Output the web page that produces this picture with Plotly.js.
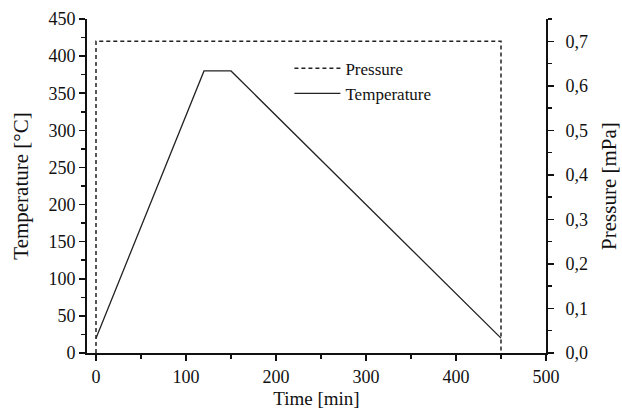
<!DOCTYPE html>
<html>
<head>
<meta charset="utf-8">
<script src="https://cdn.plot.ly/plotly-3.0.1.min.js"></script>
<style>html,body{margin:0;padding:0;background:#fff;}#chart{width:622px;height:409px;}</style>
</head>
<body>
<div id="chart"></div>
<script>
const pressureTime = [0, 0, 450, 450];
const pressureValues = [0, 0.7, 0.7, 0];
const tempTime = [0, 120, 150, 450];
const tempValues = [20, 380, 380, 20];

const fam = '"Liberation Serif", "Times New Roman", serif';
const tickFont = {family: fam, size: 18, color: '#111'};
const legendFont = {family: fam, size: 17, color: '#111'};

const traces = [
  {x: pressureTime, y: pressureValues, yaxis: 'y2', name: 'Pressure', mode: 'lines',
   line: {color: '#222', width: 1.5, dash: '4px,3px'}},
  {x: tempTime, y: tempValues, name: 'Temperature', mode: 'lines',
   line: {color: '#222', width: 1.3}}
];

const axisCommon = {
  showgrid: false, zeroline: false, showline: true, linecolor: '#111', linewidth: 2,
  ticks: 'outside', ticklen: 6, tickwidth: 1.5, tickcolor: '#111', tickfont: tickFont
};

const layout = {
  width: 622, height: 409,
  margin: {l: 87, r: 76, t: 19, b: 56},
  paper_bgcolor: '#fff', plot_bgcolor: '#fff',
  font: tickFont,
  separators: ',.',
  showlegend: true,
  legend: {x: 0.441, y: 0.905, xanchor: 'left', yanchor: 'top', bgcolor: 'rgba(0,0,0,0)',
           font: legendFont, tracegroupgap: 0, itemwidth: 46},
  xaxis: Object.assign({}, axisCommon, {
    range: [-10, 500], tickvals: [0, 100, 200, 300, 400, 500],
    minor: {dtick: 50, tick0: 0, ticklen: 4, tickwidth: 1.5, tickcolor: '#111', ticks: 'outside'},
    title: {text: 'Time [min]', font: {family: fam, size: 19, color: '#111'}, standoff: 8}
  }),
  yaxis: Object.assign({}, axisCommon, {
    range: [0, 450], dtick: 50, tick0: 0,
    minor: {dtick: 25, tick0: 0, ticklen: 4, tickwidth: 1.5, tickcolor: '#111', ticks: 'outside'},
    title: {text: 'Temperature [°C]', font: {family: fam, size: 21, color: '#111'}, standoff: 14}
  }),
  yaxis2: Object.assign({}, axisCommon, {
    overlaying: 'y', side: 'right', range: [0, 0.75], dtick: 0.1, tick0: 0, tickformat: '.1f',
    ticklabelstandoff: 8,
    minor: {dtick: 0.05, tick0: 0, ticklen: 4, tickwidth: 1.5, tickcolor: '#111', ticks: 'outside'},
    title: {text: 'Pressure [mPa]', font: {family: fam, size: 21, color: '#111'}, standoff: 14}
  })
};

Plotly.newPlot('chart', traces, layout, {displayModeBar: false, staticPlot: true});
</script>
</body>
</html>
